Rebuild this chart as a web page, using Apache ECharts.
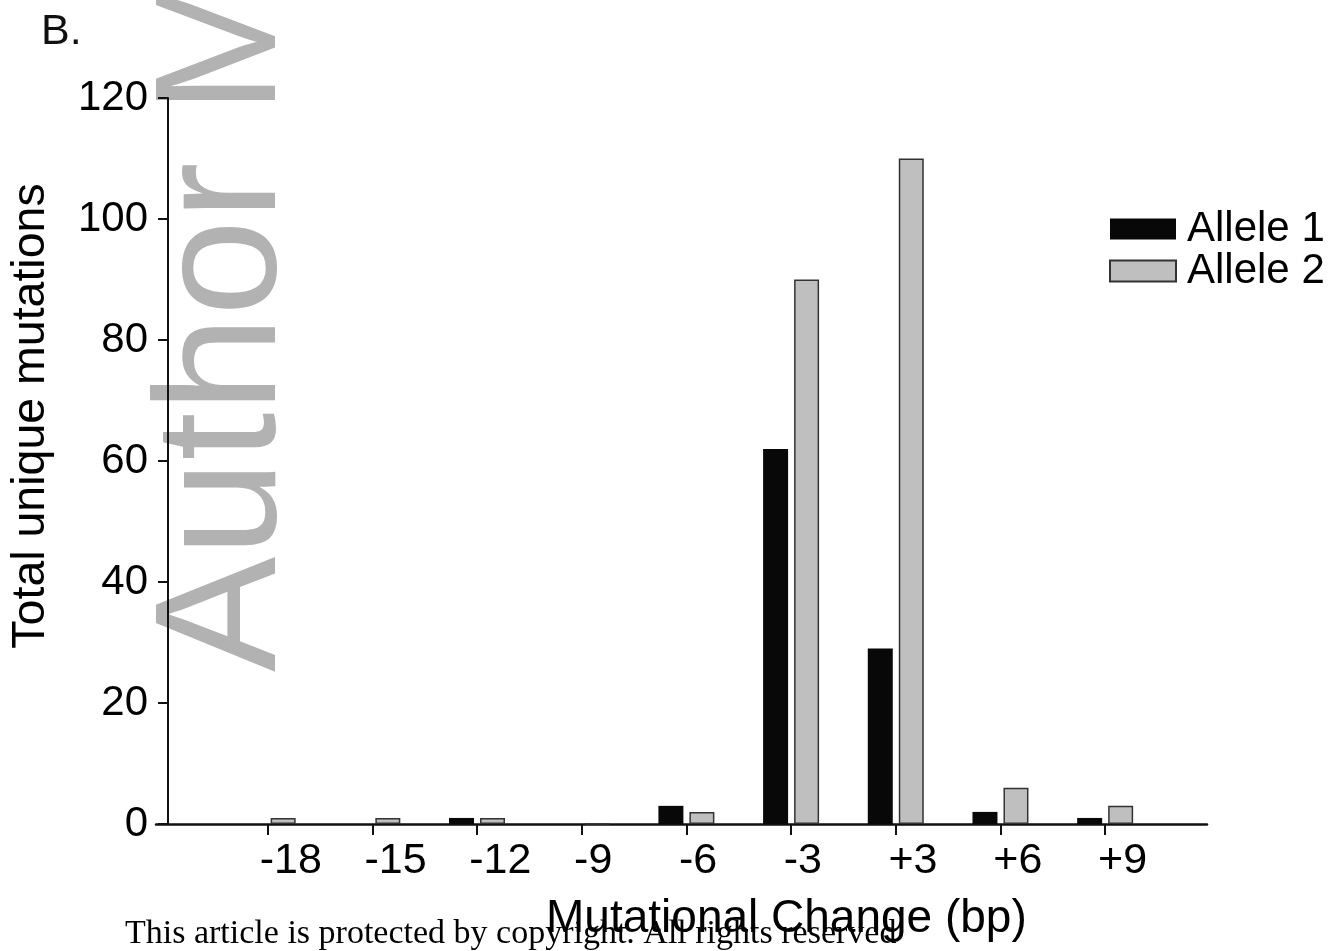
<!DOCTYPE html>
<html>
<head>
<meta charset="utf-8">
<script src="https://cdn.jsdelivr.net/npm/echarts@6/dist/echarts.min.js"></script>
<style>
html,body{margin:0;padding:0;background:#fff;}
#chart{width:1340px;height:951px;}
</style>
</head>
<body>
<div id="chart"></div>
<script>
// ---- data ----
const categories = ['-18', '-15', '-12', '-9', '-6', '-3', '+3', '+6', '+9'];
const allele1 = [0, 0, 1, 0, 3, 62, 29, 2, 1];
const allele2 = [1, 1, 1, 0, 2, 90, 110, 6, 3];
const seriesNames = ['Allele 1', 'Allele 2'];
const yMin = 0, yMax = 120, yStep = 20;
const panelLabel = 'B.';
const xTitle = 'Mutational Change (bp)';
const yTitle = 'Total unique mutations';
const watermark = 'Author Manuscript';
const footer = 'This article is protected by copyright. All rights reserved';

const FONT = "'Liberation Sans', Arial, Helvetica, sans-serif";
const chart = echarts.init(document.getElementById('chart'), null, {renderer: 'canvas'});

const gTop = 98, gBottom = 127;
const bandLeft = 214.3, bandRight = 182.5;

chart.setOption({
  animation: false,
  backgroundColor: '#ffffff',
  textStyle: {fontFamily: FONT},
  grid: [
    {left: bandLeft, right: bandRight, top: gTop, bottom: gBottom, containLabel: false},
    {left: bandLeft - 7, right: bandRight + 7, top: gTop, bottom: gBottom, containLabel: false},
    {left: 156, right: 133, top: gTop, bottom: gBottom, containLabel: false}
  ],
  xAxis: [
    {
      type: 'category', gridIndex: 0, data: categories,
      axisLine: {show: false},
      axisTick: {show: true, alignWithLabel: true, length: 11, lineStyle: {color: '#111', width: 2}},
      axisLabel: {show: false},
      name: xTitle, nameLocation: 'middle', nameGap: 72,
      nameTextStyle: {fontSize: 46, color: '#000', fontFamily: FONT, padding: [0, 0, 0, 200]}
    },
    {
      type: 'category', gridIndex: 1, data: categories,
      axisLine: {show: false}, axisTick: {show: false},
      axisLabel: {show: true, align: 'left', margin: 16, fontSize: 43, color: '#000', fontFamily: FONT, interval: 0}
    },
    {
      type: 'value', gridIndex: 2, min: 0, max: 1,
      axisLine: {show: true, onZero: false, lineStyle: {color: '#111', width: 2.5}},
      axisTick: {show: false}, axisLabel: {show: false}, splitLine: {show: false}
    }
  ],
  yAxis: [
    {
      type: 'value', gridIndex: 0, min: yMin, max: yMax, interval: yStep,
      offset: bandLeft - 167,
      axisLine: {show: true, lineStyle: {color: '#111', width: 2}},
      axisTick: {show: true, length: 10, lineStyle: {color: '#111', width: 2}},
      axisLabel: {margin: 20, fontSize: 42, color: '#000', fontFamily: FONT},
      splitLine: {show: false},
      name: yTitle, nameLocation: 'middle', nameRotate: 90, nameGap: 113,
      nameTextStyle: {fontSize: 46.5, color: '#000', fontFamily: FONT, padding: [0, 0, 0, 90]}
    },
    {type: 'value', gridIndex: 1, show: false},
    {type: 'value', gridIndex: 2, show: false}
  ],
  legend: {
    orient: 'vertical', left: 1104, top: 203,
    itemWidth: 66, itemHeight: 21, itemGap: 0,
    icon: 'rect',
    textStyle: {fontSize: 42, lineHeight: 36, color: '#000', fontFamily: FONT, padding: [0, 0, 0, 6]},
    data: seriesNames
  },
  series: [
    {
      name: seriesNames[0], type: 'bar', xAxisIndex: 0, yAxisIndex: 0,
      data: allele1, barWidth: 25, barGap: '24%',
      itemStyle: {color: '#080808'}
    },
    {
      name: seriesNames[1], type: 'bar', xAxisIndex: 0, yAxisIndex: 0,
      data: allele2, barWidth: 25, barGap: '24%',
      itemStyle: {color: '#bfbfbf', borderColor: '#333', borderWidth: 1.5}
    }
  ],
  graphic: [
    {
      type: 'text', z: -1, x: 227, y: 672, rotation: Math.PI / 2,
      style: {text: watermark, font: '173px ' + FONT, fill: '#b2b2b2', textAlign: 'left', textVerticalAlign: 'middle'}
    },
    {
      type: 'text', x: 41, y: 11,
      style: {text: panelLabel, font: '43px ' + FONT, fill: '#111', textAlign: 'left', textVerticalAlign: 'top'}
    },
    {
      type: 'text', x: 125, y: 951,
      style: {text: footer, font: "34px 'Liberation Serif', 'Times New Roman', serif", fill: '#000', textAlign: 'left', textVerticalAlign: 'bottom'}
    }
  ]
});
</script>
</body>
</html>
